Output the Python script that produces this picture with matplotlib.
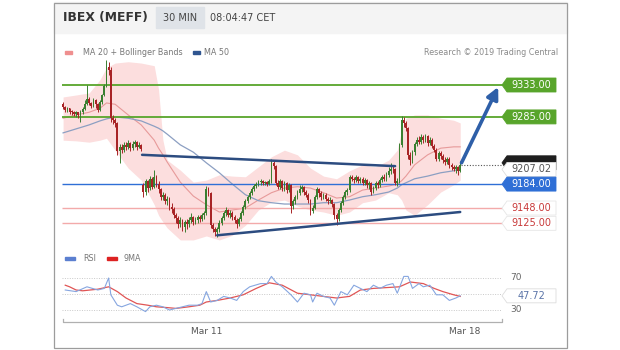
import numpy as np
import matplotlib
matplotlib.use('Agg')
import matplotlib.pyplot as plt
from matplotlib.patches import Rectangle, Polygon
from matplotlib.transforms import blended_transform_factory

# ---- data (30 min bars) ----
closes = [
    9300, 9296, 9298, 9293, 9292, 9289, 9292, 9288, 9293, 9297,
    9305, 9312, 9306, 9302, 9310, 9304, 9296, 9308, 9318, 9332,
    9360, 9356, 9283, 9280, 9276, 9234, 9240, 9236, 9243, 9240,
    9246, 9238, 9244, 9247, 9240, 9243, 9237, 9172, 9188, 9178,
    9192, 9180, 9195, 9184, 9176, 9165, 9168, 9158, 9162, 9150,
    9147, 9138, 9133, 9124, 9130, 9120, 9127, 9124, 9130, 9134,
    9127, 9130, 9135, 9131, 9137, 9140, 9176, 9170, 9122, 9117,
    9112, 9116, 9126, 9133, 9140, 9145, 9138, 9141, 9135, 9130,
    9124, 9131, 9140, 9150, 9158, 9165, 9171, 9176, 9181, 9184,
    9187, 9188, 9185, 9187, 9184, 9188, 9215, 9211, 9186, 9180,
    9188, 9178, 9185, 9175, 9182, 9151, 9158, 9165, 9170, 9176,
    9179, 9172, 9168, 9160, 9143, 9148, 9165, 9176, 9170, 9165,
    9168, 9162, 9158, 9160, 9154, 9137, 9131, 9145, 9155, 9165,
    9172, 9175, 9195, 9192, 9190, 9194, 9188, 9192, 9186, 9190,
    9182, 9185, 9172, 9178, 9185, 9182, 9190, 9195, 9192, 9198,
    9203, 9207, 9206, 9186, 9189, 9243, 9280, 9276, 9268, 9228,
    9220, 9232, 9245, 9251, 9248, 9255, 9250, 9256, 9246, 9251,
    9242, 9236, 9222, 9230, 9226, 9220, 9217, 9222, 9212, 9210,
    9207, 9209, 9204, 9213,
]
highs = [
    9307, 9302, 9300, 9299, 9295, 9294, 9294, 9293, 9295, 9300,
    9310, 9333, 9315, 9308, 9314, 9312, 9306, 9310, 9320, 9335,
    9370, 9368, 9360, 9288, 9284, 9278, 9245, 9244, 9247, 9248,
    9250, 9247, 9249, 9251, 9249, 9247, 9245, 9186, 9192, 9190,
    9196, 9194, 9205, 9198, 9188, 9178, 9172, 9170, 9166, 9164,
    9155, 9150, 9141, 9136, 9134, 9132, 9130, 9131, 9134, 9140,
    9136, 9134, 9138, 9137, 9140, 9143, 9181, 9180, 9172, 9126,
    9120, 9120, 9130, 9136, 9144, 9150, 9147, 9145, 9143, 9138,
    9133, 9134, 9143, 9153, 9161, 9168, 9174, 9179, 9184, 9187,
    9190, 9191, 9190, 9189, 9189, 9191, 9222, 9220, 9213, 9190,
    9192, 9190, 9188, 9187, 9185, 9184, 9162, 9168, 9175, 9182,
    9183, 9181, 9175, 9170, 9162, 9152, 9168, 9180, 9178, 9173,
    9171, 9170, 9165, 9164, 9162, 9156, 9140, 9148, 9158, 9168,
    9175, 9178, 9198, 9198, 9195, 9197, 9196, 9195, 9194, 9193,
    9192, 9188, 9187, 9181, 9188, 9189, 9193, 9198, 9199, 9202,
    9210, 9216, 9212, 9208, 9193, 9246, 9286, 9285, 9279, 9270,
    9232, 9235, 9248, 9255, 9256, 9259, 9258, 9260, 9258, 9255,
    9253, 9245, 9238, 9234, 9233, 9229, 9224, 9225, 9224, 9215,
    9213, 9212, 9211, 9219,
]
lows = [
    9297, 9293, 9293, 9290, 9288, 9286, 9285, 9284, 9278, 9290,
    9295, 9303, 9303, 9298, 9300, 9298, 9292, 9294, 9305, 9316,
    9330, 9348, 9278, 9274, 9270, 9228, 9216, 9230, 9232, 9236,
    9237, 9234, 9235, 9240, 9236, 9238, 9233, 9165, 9168, 9172,
    9175, 9176, 9178, 9180, 9170, 9160, 9160, 9154, 9152, 9145,
    9140, 9133, 9125, 9118, 9120, 9114, 9112, 9116, 9120, 9125,
    9122, 9124, 9126, 9127, 9129, 9132, 9138, 9166, 9118, 9112,
    9106, 9105, 9112, 9122, 9130, 9136, 9134, 9133, 9130, 9126,
    9118, 9121, 9128, 9137, 9147, 9155, 9162, 9168, 9173, 9178,
    9181, 9183, 9182, 9182, 9181, 9182, 9186, 9206, 9182, 9176,
    9177, 9174, 9174, 9171, 9172, 9140, 9146, 9154, 9162, 9167,
    9172, 9168, 9164, 9155, 9138, 9140, 9146, 9162, 9165, 9160,
    9161, 9158, 9154, 9155, 9150, 9132, 9122, 9128, 9142, 9152,
    9162, 9168, 9172, 9188, 9186, 9187, 9185, 9185, 9183, 9183,
    9178, 9176, 9168, 9170, 9175, 9178, 9180, 9187, 9188, 9189,
    9195, 9199, 9200, 9182, 9181, 9186, 9240, 9270, 9264, 9222,
    9212, 9216, 9228, 9241, 9244, 9245, 9246, 9248, 9242, 9243,
    9238, 9232, 9218, 9219, 9221, 9216, 9212, 9214, 9208, 9205,
    9203, 9201, 9197, 9202,
]
first_open = 9304
gap_opens = {37: 9182}

# moving averages / bollinger bands, sampled at bar indices
band_idx = [0, 6, 12, 17, 20, 24, 30, 36, 42, 44, 46, 48, 54, 60, 66, 72, 78, 84, 90,
            96, 102, 108, 114, 120, 126, 132, 138, 144, 150, 154, 156, 158, 162, 168,
            174, 180, 183]
bb_upper = [9315, 9318, 9321, 9341, 9359, 9366, 9368, 9366, 9362, 9326, 9250, 9220, 9205,
            9187, 9190, 9198, 9196, 9195, 9210, 9225, 9235, 9228, 9208, 9196, 9192, 9204,
            9213, 9210, 9220, 9235, 9265, 9283, 9288, 9288, 9283, 9280, 9276]
bb_lower = [9250, 9249, 9247, 9250, 9253, 9235, 9208, 9190, 9153, 9137, 9127, 9118, 9100,
            9100, 9106, 9100, 9107, 9122, 9145, 9157, 9160, 9151, 9145, 9142, 9137, 9142,
            9156, 9160, 9171, 9168, 9160, 9145, 9137, 9153, 9172, 9183, 9190]
ma20 = [9283, 9288, 9292, 9298, 9306, 9304, 9288, 9273, 9250, 9238, 9228, 9217, 9187,
        9166, 9153, 9142, 9145, 9148, 9160, 9171, 9178, 9180, 9178, 9171, 9163, 9165,
        9175, 9178, 9181, 9184, 9189, 9196, 9213, 9228, 9238, 9240, 9240]
ma50 = [9261, 9267, 9273, 9279, 9282, 9285, 9283, 9279, 9271, 9268, 9264, 9259, 9243,
        9232, 9216, 9201, 9184, 9168, 9159, 9156, 9154, 9154, 9154, 9156, 9156, 9160,
        9165, 9168, 9172, 9178, 9183, 9186, 9192, 9196, 9201, 9204, 9207]

# key levels
resistances = [9333, 9285]
pivot = 9184
supports = [9148, 9125]
ma50_last = 9207.02

# trendlines and target arrow (bar index, price)
trend_hi = [(36.4, 9228), (153, 9211)]
trend_lo = [(71, 9107), (183, 9142)]
target_arrow = [(183.6, 9216), (200.5, 9330)]

# RSI panel
rsi_idx = [1, 6, 11, 16, 19, 21, 22, 25, 27, 31, 34, 38, 40, 43, 46, 49, 52, 55, 58, 62,
           64, 66, 68, 71, 74, 77, 80, 83, 86, 91, 94, 96, 98, 101, 105, 108, 111, 114,
           115, 117, 120, 123, 125, 128, 131, 134, 137, 140, 143, 146, 149, 152, 154,
           157, 159, 161, 164, 166, 169, 172, 175, 178, 181, 183]
rsi_val = [55, 53, 59, 55, 57, 70, 49, 36, 34, 38, 34, 28, 34, 36, 34, 30, 32, 34, 36, 36,
           38, 53, 40, 42, 47, 45, 42, 53, 59, 63, 63, 72, 65, 59, 49, 40, 51, 49, 40, 51,
           47, 45, 36, 53, 49, 61, 57, 53, 61, 57, 61, 63, 51, 72, 72, 57, 63, 59, 61, 49,
           49, 42, 45, 47.72]
ma9_idx = [1, 3, 6, 9, 16, 21, 25, 29, 34, 39, 43, 48, 52, 58, 63, 66, 71, 77, 83, 89,
           95, 101, 108, 114, 120, 126, 132, 137, 143, 149, 155, 160, 166, 171, 175, 180, 183]
ma9_val = [61, 59, 55, 54, 56, 59, 53, 45, 38, 36, 34, 33, 32, 34, 36, 40, 42, 45, 49, 57,
           64, 61, 51, 49, 47, 45, 47, 55, 57, 58, 59, 65, 63, 57, 53, 49, 47]
rsi_levels = [70, 30]

tick_bars = [66, 185]
tick_labels = ['Mar 11', 'Mar 18']

# ---- colours ----
GREEN = '#58a52b'
BLUE = '#2f6fd6'
RED_TXT = '#c83a3a'
RED_LINE = '#f3aaaa'
NAVY = '#2c4c80'
UP = '#3a7f30'
DOWN = '#a82426'

W, H = 620, 350
fig = plt.figure(figsize=(W / 100, H / 100), dpi=100)


def fx(px):
    return px / W


def fy(py):
    return 1 - py / H


# card + header
fig.patches.append(Rectangle((fx(54), fy(33)), fx(567) - fx(54), fy(2) - fy(33),
                             transform=fig.transFigure, color='#f4f4f4', zorder=0))
fig.patches.append(Rectangle((fx(53.5), fy(348)), fx(567) - fx(53.5), fy(2.5) - fy(348),
                             transform=fig.transFigure, fill=False, ec='#9c9c9c', lw=0.9))
fig.patches.append(Rectangle((fx(156), fy(28)), fx(204) - fx(156), fy(7) - fy(28),
                             transform=fig.transFigure, color='#dfe3e8', zorder=1))
fig.text(fx(63), fy(18), 'IBEX (MEFF)', fontsize=8.9, fontweight='bold', color='#333333',
         va='center')
fig.text(fx(180), fy(18), '30 MIN', fontsize=7, color='#444444', va='center', ha='center')
fig.text(fx(210), fy(18), '08:04:47 CET', fontsize=7, color='#444444', va='center')

# legends
fig.patches.append(Rectangle((fx(65), fy(54)), fx(7), 3 / H,
                             transform=fig.transFigure, color='#ef8f8f'))
fig.text(fx(83), fy(52.5), 'MA 20 + Bollinger Bands', fontsize=5.8, color='#777777', va='center')
fig.patches.append(Rectangle((fx(193), fy(54)), fx(7), 3 / H,
                             transform=fig.transFigure, color='#2f5590'))
fig.text(fx(204), fy(52.5), 'MA 50', fontsize=5.8, color='#777777', va='center')
fig.text(fx(558), fy(52.5), 'Research \u00a9 2019 Trading Central', fontsize=5.8,
         color='#8a8a8a', va='center', ha='right')

fig.patches.append(Rectangle((fx(65), fy(260)), fx(10), 3 / H,
                             transform=fig.transFigure, color='#5b7fd0'))
fig.text(fx(83), fy(258.5), 'RSI', fontsize=5.8, color='#777777', va='center')
fig.patches.append(Rectangle((fx(107), fy(260)), fx(10), 3 / H,
                             transform=fig.transFigure, color='#dd2222'))
fig.text(fx(124), fy(258.5), '9MA', fontsize=5.8, color='#777777', va='center')

# ---- main price axes ----
XL = (-0.5, 227.6)
ax = fig.add_axes([fx(62), fy(243), fx(557) - fx(62), fy(58) - fy(243)])
ax.set_xlim(*XL)
ax.set_ylim(9095.4, 9373.6)
ax.axis('off')

c = np.array(closes, float)
o = np.r_[first_open, c[:-1]]
for k, v in gap_opens.items():
    o[k] = v
hi = np.array(highs, float)
lo = np.array(lows, float)
x = np.arange(len(c))

ax.fill_between(band_idx, bb_lower, bb_upper, color='#fcdede', lw=0, zorder=1)
ax.plot(band_idx, ma20, color='#e79a9a', lw=0.8, zorder=2)
ax.plot(band_idx, ma50, color='#8c9fc2', lw=0.9, zorder=2)

# level lines
x_lab = 202.7
for p in resistances:
    ax.hlines(p, XL[0], x_lab, color=GREEN, lw=1.3, zorder=3)
ax.hlines(pivot, XL[0], x_lab, color=BLUE, lw=1.0, zorder=3)
for p in supports:
    ax.hlines(p, XL[0], x_lab, color=RED_LINE, lw=1.0, zorder=3)

# candles
up = c >= o
col = np.where(up, UP, DOWN)
ax.vlines(x, lo, hi, colors=col, lw=0.7, zorder=4)
body_lo = np.minimum(o, c)
body_h = np.maximum(np.abs(c - o), 1.2)
ax.bar(x, body_h, bottom=body_lo, width=0.82, color=col, lw=0, zorder=5)

# trendlines and arrow
for seg in (trend_hi, trend_lo):
    ax.plot([seg[0][0], seg[1][0]], [seg[0][1], seg[1][1]], color=NAVY, lw=1.8,
            solid_capstyle='round', zorder=6)
ax.annotate('', xy=target_arrow[1], xytext=target_arrow[0],
            arrowprops=dict(arrowstyle='-|>,head_length=0.7,head_width=0.35', lw=2.6,
                            color='#2e5fa8', shrinkA=0, shrinkB=0), zorder=7)
ax.hlines(c[-1], x[-1] + 0.5, x_lab, color='#555555', lw=0.8, linestyles=(0, (1, 1.5)),
          zorder=3)

# price labels on the right
tr = blended_transform_factory(ax.transAxes, ax.transData)


def axf(px):
    return (px - 62) / 495


def tag(axis, transform, val, text, face, txt, edge, half, fs=7):
    pts = [(axf(502), val), (axf(507), val + half), (axf(556), val + half),
           (axf(556), val - half), (axf(507), val - half)]
    axis.add_patch(Polygon(pts, closed=True, transform=transform, fc=face, ec=edge,
                           lw=0.6, clip_on=False, zorder=8))
    if text:
        axis.text(axf(531), val, text, transform=transform, ha='center', va='center',
                  fontsize=fs, color=txt, clip_on=False, zorder=9)


half = 7 * 278.2 / 185
for p in resistances:
    tag(ax, tr, p, f'{p:.2f}', GREEN, 'white', GREEN, half)
# last price tag, almost hidden behind the MA 50 tag
tag(ax, tr, c[-1] + 3, '', '#1e1e1e', 'white', '#1e1e1e', half)
tag(ax, tr, ma50_last - 1, f'{ma50_last:.2f}', 'white', '#555555', '#dddddd', half)
tag(ax, tr, pivot, f'{pivot:.2f}', BLUE, 'white', BLUE, half)
for p in supports:
    tag(ax, tr, p, f'{p:.2f}', 'white', RED_TXT, '#e6e6e6', half)

# ---- RSI axes ----
ax2 = fig.add_axes([fx(62), fy(326), fx(557) - fx(62), fy(262) - fy(326)])
ax2.set_xlim(*XL)
ax2.set_ylim(10, 90)
ax2.axis('off')
for lvl in rsi_levels + [50]:
    ax2.hlines(lvl, XL[0], 202, color='#c9c9c9', lw=0.7, linestyles=(0, (1, 1.5)))
ax2.plot(ma9_idx, ma9_val, color='#e05555', lw=0.9)
ax2.plot(rsi_idx, rsi_val, color='#86a6e0', lw=0.8)
tr2 = blended_transform_factory(ax2.transAxes, ax2.transData)
for lvl in rsi_levels:
    ax2.text(axf(510), lvl, str(lvl), transform=tr2, fontsize=6.5, color='#666666',
             va='center', clip_on=False)
tag(ax2, tr2, rsi_val[-1], f'{rsi_val[-1]:.2f}', 'white', '#5a74a8', '#dddddd', 7 * 80 / 64)

# bottom bracket + date labels
ax2.plot([XL[0] + 0.3, XL[0] + 0.3, 202.3, 202.3], [19, 14.5, 14.5, 19], color='#b0b0b0',
         lw=0.9, clip_on=False)
for b, lab in zip(tick_bars, tick_labels):
    ax2.text(b, 2.5, lab, fontsize=6.5, color='#555555', ha='center', va='center',
             clip_on=False)

fig.savefig('out.png', dpi=100)
